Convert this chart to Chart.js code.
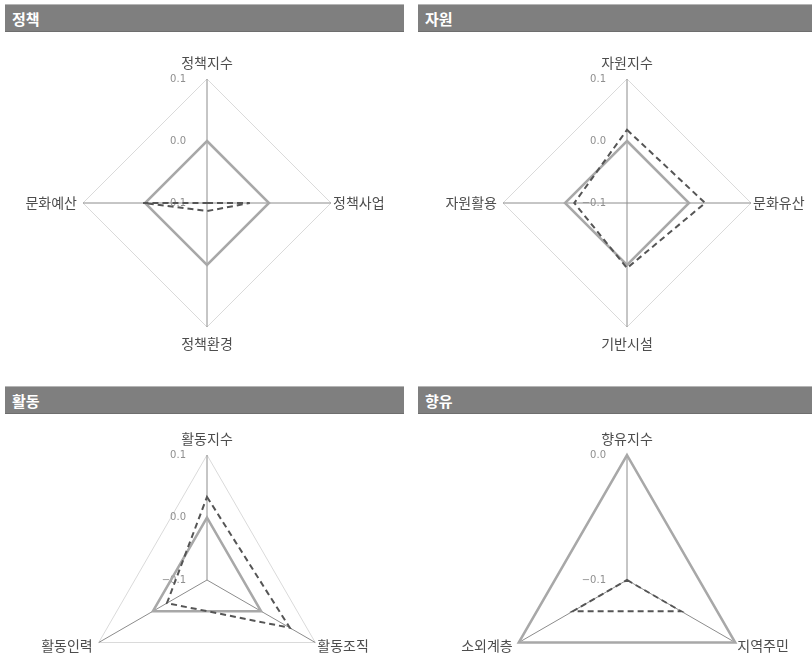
<!DOCTYPE html>
<html>
<head>
<meta charset="utf-8">
<script src="https://cdn.jsdelivr.net/npm/chart.js@4.4.1/dist/chart.umd.min.js"></script>
<style>
body { margin: 0; background: #fff; width: 812px; height: 657px; overflow: hidden; position: relative; font-family: "Noto Sans CJK KR", sans-serif; }
.hd { position: absolute; height: 28px; background: #7f7f7f; color: #fff; font-weight: bold; font-size: 15px; line-height: 28px; padding-left: 7px; box-sizing: border-box; border-top: 1px solid #b5b5b5; border-bottom: 1px solid #6e6e6e; }
canvas { position: absolute; }
</style>
</head>
<body>
<div class="hd" style="left:5px;top:4px;width:399px">정책</div>
<div class="hd" style="left:418px;top:4px;width:394px">자원</div>
<div class="hd" style="left:5px;top:386px;width:399px">활동</div>
<div class="hd" style="left:418px;top:386px;width:394px">향유</div>
<canvas id="c1" style="left:0;top:36px"></canvas>
<canvas id="c2" style="left:406px;top:36px"></canvas>
<canvas id="c3" style="left:0;top:416px"></canvas>
<canvas id="c4" style="left:406px;top:416px"></canvas>
<script>
// 정책
var policyLabels = ['정책지수', '정책사업', '정책환경', '문화예산'];
var policyAvg = [0, 0, 0, 0];
var policyRegion = [-0.1, -0.031, -0.087, 0.003];
// 자원
var resourceLabels = ['자원지수', '문화유산', '기반시설', '자원활용'];
var resourceAvg = [0, 0, 0, 0];
var resourceRegion = [0.018, 0.026, 0.005, -0.015];
// 활동
var activityLabels = ['활동지수', '활동조직', '활동인력'];
var activityAvg = [0, 0, 0];
var activityRegion = [0.033, 0.053, -0.026];
// 향유
var enjoyLabels = ['향유지수', '지역주민', '소외계층'];
var enjoyAvg = [0, 0, 0];
var enjoyRegion = [-0.1, -0.05, -0.05];
// ticks
var tickValues = [-0.1, 0.0, 0.1];
var tickText = ['\u22120.1', '0.0', '0.1'];
var enjoyTickValues = [-0.1, 0.0];
var enjoyTickText = ['\u22120.1', '0.0'];

function makeRadar(id, left, top, w, h, cx, cy, R, labels, avg, region, tv, tt) {
    var cv = document.getElementById(id);
    cv.width = w; cv.height = h;
    var textPlugin = {
        id: 'radarText',
        beforeDatasetsDraw: function(chart) {
            var s = chart.scales.r, ctx = chart.ctx;
            ctx.save();
            ctx.font = '10px "DejaVu Sans", sans-serif';
            ctx.fillStyle = '#8f8f8f';
            ctx.textAlign = 'right';
            ctx.textBaseline = 'middle';
            tv.forEach(function(v, i) {
                ctx.fillText(tt[i], s.xCenter - 21, s.yCenter - s.getDistanceFromCenterForValue(v));
            });
            ctx.restore();
        },
        afterDraw: function(chart) {
            var s = chart.scales.r, ctx = chart.ctx;
            ctx.save();
            ctx.font = '14px "Noto Sans CJK KR", sans-serif';
            ctx.fillStyle = '#4d4d4d';
            labels.forEach(function(lab, i) {
                var p = s.getPointPosition(i, s.drawingArea);
                var dx = p.x - s.xCenter, dy = p.y - s.yCenter;
                ctx.textBaseline = 'middle';
                if (Math.abs(dx) < 1) {
                    ctx.textAlign = 'center';
                    ctx.fillText(lab, p.x, dy < 0 ? p.y - 16 : p.y + 17);
                } else {
                    ctx.textAlign = dx > 0 ? 'left' : 'right';
                    ctx.fillText(lab, dx > 0 ? p.x + 2 : p.x - 6, dy > 1 ? p.y + 3 : p.y);
                }
            });
            ctx.restore();
        }
    };
    return new Chart(cv.getContext('2d'), {
        type: 'radar',
        data: {
            labels: labels,
            datasets: [{
                data: region,
                borderColor: '#555555',
                borderWidth: 2,
                borderDash: [6, 4],
                fill: false,
                pointRadius: 0,
                clip: false
            }, {
                data: avg,
                borderColor: '#a8a8a8',
                borderWidth: 2.5,
                fill: false,
                pointRadius: 0,
                clip: false
            }]
        },
        options: {
            responsive: false,
            animation: false,
            layout: {
                padding: {
                    left: cx - R - left,
                    right: left + w - (cx + R),
                    top: cy - R - top,
                    bottom: top + h - (cy + R)
                }
            },
            plugins: { legend: { display: false }, tooltip: { enabled: false } },
            elements: { line: { tension: 0 } },
            scales: {
                r: {
                    min: tv[0],
                    max: tv[tv.length - 1],
                    ticks: { display: false, stepSize: 0.1 },
                    grid: { color: '#dadada', lineWidth: 1 },
                    angleLines: { color: '#8c8c8c', lineWidth: 1 },
                    pointLabels: { display: false }
                }
            }
        },
        plugins: [textPlugin]
    });
}

makeRadar('c1', 0, 36, 406, 344, 207, 203, 124, policyLabels, policyAvg, policyRegion, tickValues, tickText);
makeRadar('c2', 406, 36, 406, 344, 627, 203, 124, resourceLabels, resourceAvg, resourceRegion, tickValues, tickText);
makeRadar('c3', 0, 416, 406, 310, 207, 580, 125, activityLabels, activityAvg, activityRegion, tickValues, tickText);
makeRadar('c4', 406, 416, 406, 310, 627, 580, 125, enjoyLabels, enjoyAvg, enjoyRegion, enjoyTickValues, enjoyTickText);
</script>
</body>
</html>
